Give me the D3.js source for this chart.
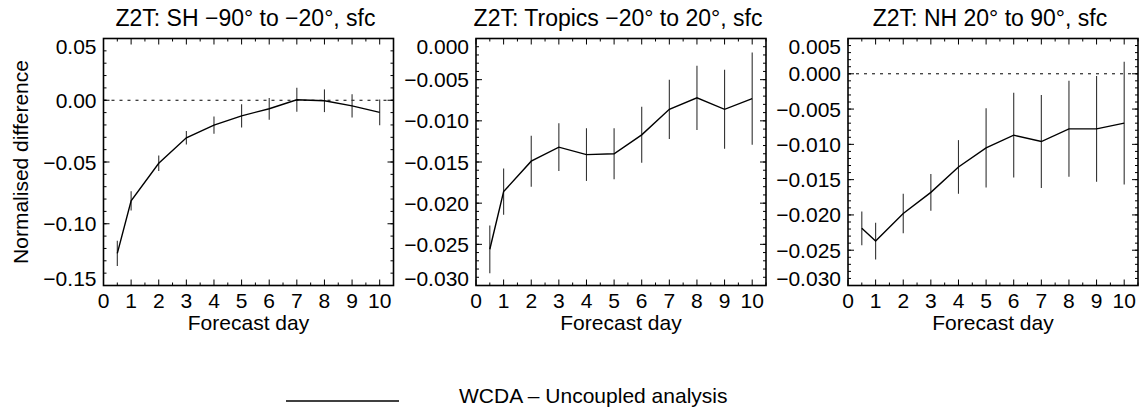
<!DOCTYPE html>
<html>
<head>
<meta charset="utf-8">
<script src="https://cdn.jsdelivr.net/npm/d3@7.9.0/dist/d3.min.js"></script>
<style>
  html, body { margin: 0; padding: 0; background: #fff; }
  svg text { font-family: "Liberation Sans", Arial, Helvetica, sans-serif; fill: #000; }
</style>
</head>
<body>
<svg id="chart" width="1145" height="409"></svg>
<script>
// --- data
const days = [0.5, 1, 2, 3, 4, 5, 6, 7, 8, 9, 10];
const xTicks = [0, 1, 2, 3, 4, 5, 6, 7, 8, 9, 10];

const titles = ['Z2T: SH \u221290\u00b0 to \u221220\u00b0, sfc',
                'Z2T: Tropics \u221220\u00b0 to 20\u00b0, sfc',
                'Z2T: NH 20\u00b0 to 90\u00b0, sfc'];

const shMean = [-0.124, -0.0815, -0.051, -0.0304, -0.0202, -0.0126, -0.0069, 0.0004, -0.0004, -0.0046, -0.0098];
const shErr  = [0.0102, 0.0078, 0.0063, 0.0055, 0.0070, 0.0094, 0.0088, 0.0098, 0.0092, 0.0094, 0.0105];
const trMean = [-0.0256, -0.0186, -0.0149, -0.0132, -0.0141, -0.0140, -0.0117, -0.0086, -0.0072, -0.0086, -0.0073];
const trErr  = [0.0029, 0.0028, 0.0031, 0.0029, 0.0032, 0.0031, 0.0034, 0.0036, 0.0039, 0.0048, 0.0056];
const nhMean = [-0.0219, -0.0237, -0.0198, -0.0168, -0.0132, -0.0105, -0.0087, -0.0096, -0.0078, -0.0078, -0.0070];
const nhErr  = [0.0024, 0.0026, 0.0028, 0.0026, 0.0038, 0.0056, 0.0060, 0.0066, 0.0068, 0.0075, 0.0087];

const shTicks = [0.05, 0.00, -0.05, -0.10, -0.15];
const trTicks = [0.000, -0.005, -0.010, -0.015, -0.020, -0.025, -0.030];
const nhTicks = [0.005, 0.000, -0.005, -0.010, -0.015, -0.020, -0.025, -0.030];

const legendLabel = 'WCDA \u2013 Uncoupled analysis';

const panels = [
  { title: titles[0], mean: shMean, err: shErr, ticks: shTicks, dom: [-0.15, 0.05], fmt: '.2f', step: 0.05 },
  { title: titles[1], mean: trMean, err: trErr, ticks: trTicks, dom: [-0.030, 0.000], fmt: '.3f', step: 0.005 },
  { title: titles[2], mean: nhMean, err: nhErr, ticks: nhTicks, dom: [-0.030, 0.005], fmt: '.3f', step: 0.005 }
];

// --- layout
const lefts = [103.5, 476, 848];
const pw = 290, plotTop = 38.5, plotBottom = 285.5;
const fs = 21;

const svg = d3.select('#chart');
svg.append('rect').attr('width', 1145).attr('height', 409).attr('fill', '#fff');

panels.forEach((p, k) => {
  const x = d3.scaleLinear().domain([0, 10.5]).range([lefts[k], lefts[k] + pw]);
  const y = d3.scaleLinear().domain(p.dom).range([plotBottom, plotTop]);
  const g = svg.append('g');

  // minor ticks
  const xMinor = d3.range(0, 10.5001, 0.5).filter(v => Math.abs(v - Math.round(v)) > 0.1);
  const yMinor = d3.range(0, Math.round((p.dom[1] - p.dom[0]) / (p.step / 5)) + 1)
                   .map(i => p.dom[0] + i * p.step / 5);

  const tick = (x1, y1, x2, y2) => g.append('line')
    .attr('x1', x1).attr('y1', y1).attr('x2', x2).attr('y2', y2)
    .attr('stroke', '#000').attr('stroke-width', 1);

  xTicks.forEach(v => { tick(x(v), plotBottom, x(v), plotBottom - 6); tick(x(v), plotTop, x(v), plotTop + 6); });
  xMinor.forEach(v => { tick(x(v), plotBottom, x(v), plotBottom - 3); tick(x(v), plotTop, x(v), plotTop + 3); });
  p.ticks.forEach(v => { tick(lefts[k], y(v), lefts[k] + 6, y(v)); tick(lefts[k] + pw, y(v), lefts[k] + pw - 6, y(v)); });
  yMinor.forEach(v => { tick(lefts[k], y(v), lefts[k] + 3, y(v)); tick(lefts[k] + pw, y(v), lefts[k] + pw - 3, y(v)); });

  // zero line
  g.append('line')
    .attr('x1', x(0)).attr('x2', x(10.5)).attr('y1', y(0)).attr('y2', y(0))
    .attr('stroke', '#000').attr('stroke-width', 1).attr('stroke-dasharray', '3,5');

  // error bars
  g.selectAll('line.err').data(days).join('line')
    .attr('class', 'err')
    .attr('x1', d => x(d)).attr('x2', d => x(d))
    .attr('y1', (d, i) => y(p.mean[i] - p.err[i]))
    .attr('y2', (d, i) => y(p.mean[i] + p.err[i]))
    .attr('stroke', '#333').attr('stroke-width', 1.1);

  // mean line
  g.append('path')
    .datum(days.map((d, i) => [d, p.mean[i]]))
    .attr('fill', 'none').attr('stroke', '#000').attr('stroke-width', 1.4)
    .attr('d', d3.line().x(d => x(d[0])).y(d => y(d[1])));

  // frame
  g.append('rect')
    .attr('x', lefts[k]).attr('y', plotTop).attr('width', pw).attr('height', plotBottom - plotTop)
    .attr('fill', 'none').attr('stroke', '#000').attr('stroke-width', 1.6);

  // y labels (clamped inside frame like the original)
  const f = d3.format(p.fmt);
  const half = fs * 0.36;
  g.selectAll('text.yl').data(p.ticks).join('text')
    .attr('class', 'yl')
    .attr('x', lefts[k] - 7)
    .attr('y', d => Math.min(Math.max(y(d), plotTop + half), plotBottom - half))
    .attr('dy', '0.36em')
    .attr('text-anchor', 'end').attr('font-size', fs)
    .text(d => f(d));

  // x labels
  g.selectAll('text.xl').data(xTicks).join('text')
    .attr('class', 'xl')
    .attr('x', d => x(d)).attr('y', 308)
    .attr('text-anchor', 'middle').attr('font-size', fs)
    .text(d => d);

  g.append('text')
    .attr('x', lefts[k] + pw / 2).attr('y', 330)
    .attr('text-anchor', 'middle').attr('font-size', fs)
    .text('Forecast day');

  g.append('text')
    .attr('x', lefts[k] + pw / 2 - 3).attr('y', 26)
    .attr('text-anchor', 'middle').attr('font-size', 23)
    .text(p.title);
});

// y axis title
svg.append('text')
  .attr('transform', 'translate(27.5,162) rotate(-90)')
  .attr('text-anchor', 'middle').attr('font-size', fs)
  .text('Normalised difference');

// legend
svg.append('line')
  .attr('x1', 286).attr('x2', 399).attr('y1', 401).attr('y2', 401)
  .attr('stroke', '#000').attr('stroke-width', 1.4);
svg.append('text')
  .attr('x', 459).attr('y', 403)
  .attr('font-size', fs)
  .text(legendLabel);
</script>
</body>
</html>
